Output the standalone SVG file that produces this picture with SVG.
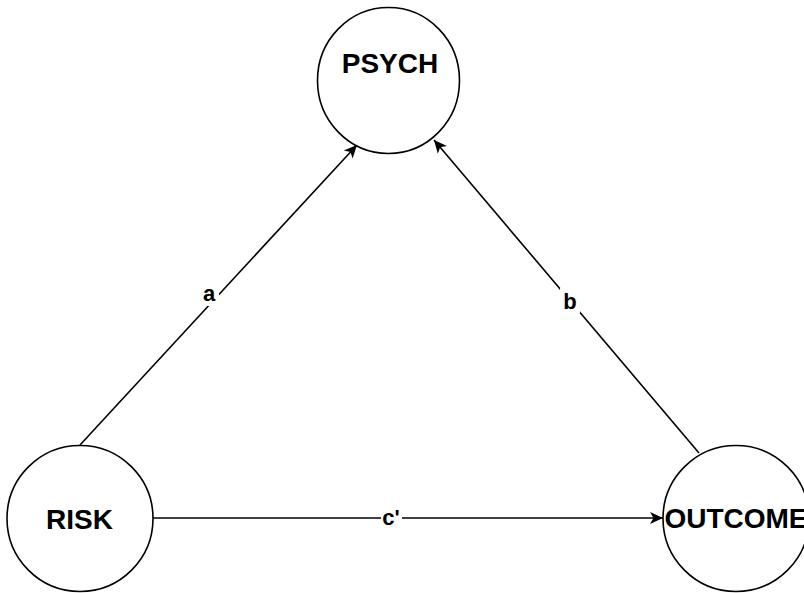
<svg xmlns="http://www.w3.org/2000/svg" width="804" height="593" viewBox="0 0 804 593">
  <style>
    .node { fill: #ffffff; stroke: #000000; stroke-width: 1.6; }
    .node-label { font-family: "Liberation Sans", Arial, sans-serif; font-weight: bold; font-size: 28px; fill: #000000; text-anchor: middle; }
    .edge { fill: none; stroke: #000000; stroke-width: 1.6; }
    .edge-label { font-family: "Liberation Sans", Arial, sans-serif; font-weight: bold; font-size: 22px; fill: #000000; text-anchor: middle; }
    .label-bg { fill: #ffffff; }
  </style>
  <defs>
    <!-- classic open-notch arrowhead -->
    <marker id="arrow" markerUnits="userSpaceOnUse" markerWidth="16" markerHeight="16" viewBox="0 0 16 16" refX="14" refY="8" orient="auto">
      <path d="M1,2 L14,8 L1,14 L4.5,8 z" fill="#000000"/>
    </marker>
  </defs>
  <rect width="804" height="593" fill="#ffffff"/>

  <!-- connectors -->
  <g id="edges">
    <g id="edge-a">
      <line class="edge" x1="80" y1="445" x2="357" y2="145" marker-end="url(#arrow)"/>
      <rect class="label-bg" x="199" y="284" width="20" height="22"/>
      <text class="edge-label" x="209" y="301">a</text>
    </g>
    <g id="edge-b">
      <line class="edge" x1="699" y1="453" x2="434" y2="140" marker-end="url(#arrow)"/>
      <rect class="label-bg" x="560" y="288" width="20" height="25"/>
      <text class="edge-label" x="570" y="309">b</text>
    </g>
    <g id="edge-c">
      <line class="edge" x1="153" y1="518" x2="663" y2="518" marker-end="url(#arrow)"/>
      <rect class="label-bg" x="381" y="506" width="21" height="22"/>
      <text class="edge-label" x="391" y="525">c'</text>
    </g>
  </g>

  <!-- nodes -->
  <g id="psych">
    <ellipse class="node" cx="388.5" cy="80.5" rx="71" ry="73"/>
    <text class="node-label" x="390" y="72.5">PSYCH</text>
  </g>
  <g id="risk">
    <circle class="node" cx="80" cy="518.5" r="73"/>
    <text class="node-label" x="79.5" y="529">RISK</text>
  </g>
  <g id="outcome">
    <circle class="node" cx="736" cy="518.5" r="73"/>
    <text class="node-label" x="736" y="528">OUTCOME</text>
  </g>
</svg>
